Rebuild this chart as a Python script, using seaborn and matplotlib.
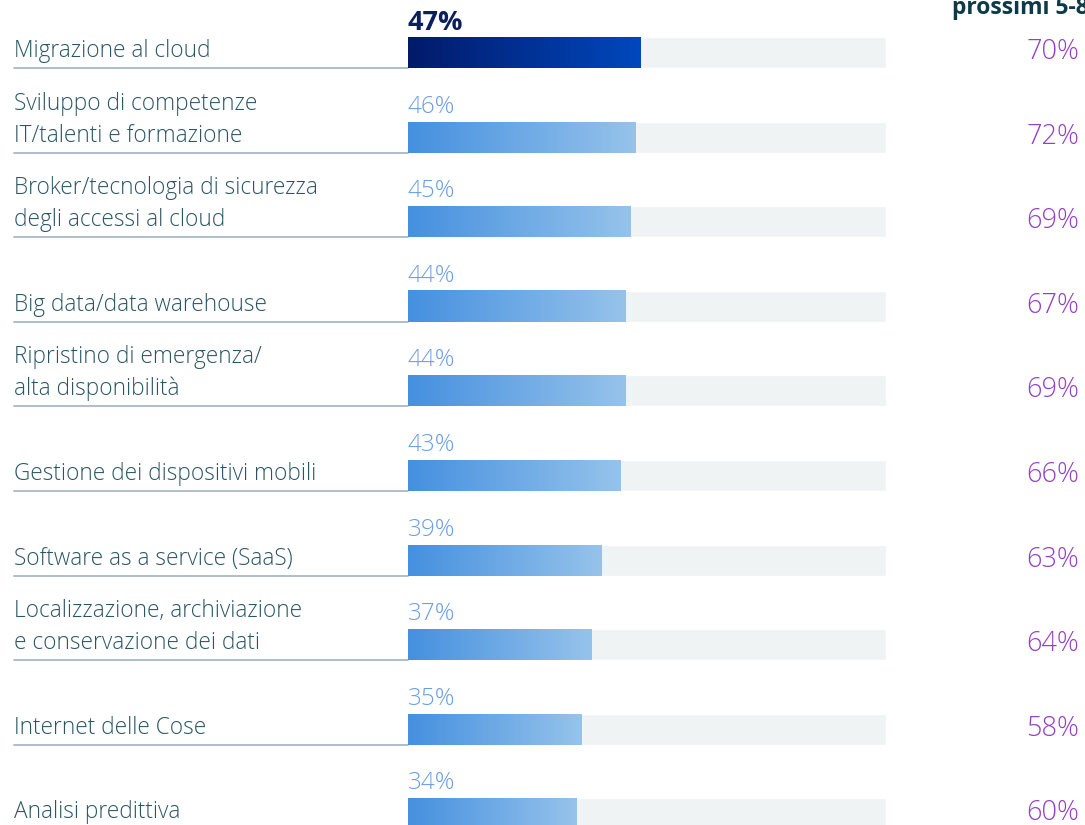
import numpy as np
import pandas as pd
import matplotlib
matplotlib.use("Agg")
import matplotlib.pyplot as plt
from matplotlib.colors import LinearSegmentedColormap
from matplotlib.transforms import blended_transform_factory
import seaborn as sns

# Investment areas: current share and share expected in the next 5-8 years
categories = [
    "Migrazione al cloud",
    "Sviluppo di competenze\nIT/talenti e formazione",
    "Broker/tecnologia di sicurezza\ndegli accessi al cloud",
    "Big data/data warehouse",
    "Ripristino di emergenza/\nalta disponibilità",
    "Gestione dei dispositivi mobili",
    "Software as a service (SaaS)",
    "Localizzazione, archiviazione\ne conservazione dei dati",
    "Internet delle Cose",
    "Analisi predittiva",
]
current = [47, 46, 45, 44, 44, 43, 39, 37, 35, 34]
future = [70, 72, 69, 67, 69, 66, 63, 64, 58, 60]
track_max = 96.5

W, H = 1085, 825
sns.set_theme(style="white")
plt.rcParams["font.family"] = ["Open Sans", "DejaVu Sans"]

fig = plt.figure(figsize=(W / 100, H / 100), dpi=100)
ax = fig.add_axes([408 / W, 0, (886 - 408) / W, 1])

df = pd.DataFrame({"cat": categories, "cur": current, "track": [track_max] * len(categories)})
bar_h = 31 / 84.6

sns.barplot(data=df, x="track", y="cat", orient="h", color="#eff3f4",
            width=bar_h, ax=ax, saturation=1, zorder=1)
n_track = len(ax.patches)
sns.barplot(data=df, x="cur", y="cat", orient="h", color="#4a90e0",
            width=bar_h, ax=ax, saturation=1, zorder=2)
value_bars = ax.patches[n_track:]

cmap_top = LinearSegmentedColormap.from_list("top", ["#021a6a", "#0048bd"])
cmap_rest = LinearSegmentedColormap.from_list("rest", ["#4590df", "#96c3eb"])
grad = np.linspace(0, 1, 256).reshape(1, -1)
for i, p in enumerate(value_bars):
    x0, y0 = p.get_x(), p.get_y()
    w, h = p.get_width(), p.get_height()
    p.set_alpha(0)
    ax.imshow(grad, extent=[x0, x0 + w, y0 + h, y0], aspect="auto",
              cmap=cmap_top if i == 0 else cmap_rest, zorder=3,
              interpolation="bicubic")

y_top = -52.5 / 84.6
y_bot = (H - 52.5) / 84.6
ax.set_xlim(0, track_max)
ax.set_ylim(y_bot, y_top)
ax.axis("off")

px = 1 / 84.6  # data units per pixel vertically
fig_tr = blended_transform_factory(fig.transFigure, ax.transData)
label_color = "#2a5663"
for i, label in enumerate(categories):
    bottom = i + bar_h / 2
    # underline under the label
    ax.plot([14 / W, 408 / W], [bottom, bottom], transform=fig_tr,
            color="#a9b9c7", lw=1.3, clip_on=False, zorder=1)
    lines = label.split("\n")
    for k, line in enumerate(reversed(lines)):
        ax.text(14 / W, bottom - 11 * px - k * 32 * px, line, transform=fig_tr,
                ha="left", va="baseline", fontsize=16.3, color=label_color,
                fontweight="light", clip_on=False)
    top = i - bar_h / 2
    if i == 0:
        ax.text(0, top - 7 * px, f"{current[i]}%", ha="left", va="baseline",
                fontsize=19.5, fontweight="bold", color="#0b1f5e")
    else:
        ax.text(0, top - 9 * px, f"{current[i]}%", ha="left", va="baseline",
                fontsize=17.5, fontweight="light", color="#6a9fe2")
    ax.text(1079 / W, bottom - 9 * px, f"{future[i]}%", transform=fig_tr,
            ha="right", va="baseline", fontsize=19.5, fontweight="light",
            color="#9440c6", clip_on=False)

fig.text(952 / W, 1 - 14 / H, "prossimi 5-8 anni", ha="left", va="baseline",
         fontsize=16.5, fontweight="bold", color="#0c3a48")

fig.savefig("out.png", dpi=100)
